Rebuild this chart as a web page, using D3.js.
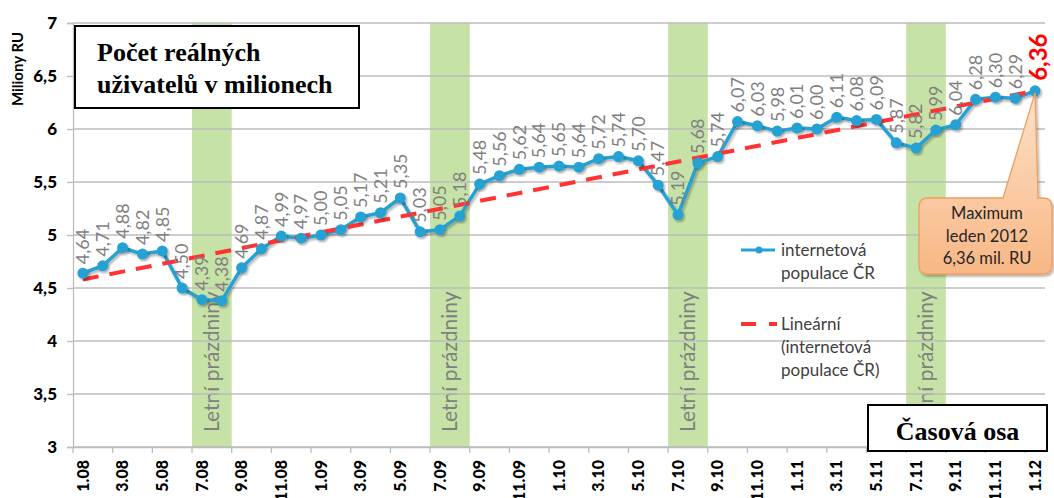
<!DOCTYPE html>
<html>
<head>
<meta charset="utf-8">
<script src="https://cdn.jsdelivr.net/npm/d3@7"></script>
<style>
body { margin: 0; background: #fff; }
svg { display: block; }
</style>
</head>
<body>
<div id="chart"></div>
<script>
const months = [
    "1.08", "2.08", "3.08", "4.08", "5.08", "6.08", "7.08", "8.08", "9.08", "10.08", "11.08", "12.08",
    "1.09", "2.09", "3.09", "4.09", "5.09", "6.09", "7.09", "8.09", "9.09", "10.09", "11.09", "12.09",
    "1.10", "2.10", "3.10", "4.10", "5.10", "6.10", "7.10", "8.10", "9.10", "10.10", "11.10", "12.10",
    "1.11", "2.11", "3.11", "4.11", "5.11", "6.11", "7.11", "8.11", "9.11", "10.11", "11.11", "12.11",
    "1.12"
];
const users = [
    4.64, 4.71, 4.88, 4.82, 4.85, 4.50, 4.39, 4.38, 4.69, 4.87, 4.99, 4.97,
    5.00, 5.05, 5.17, 5.21, 5.35, 5.03, 5.05, 5.18, 5.48, 5.56, 5.62, 5.64,
    5.65, 5.64, 5.72, 5.74, 5.70, 5.47, 5.19, 5.68, 5.74, 6.07, 6.03, 5.98,
    6.01, 6.00, 6.11, 6.08, 6.09, 5.87, 5.82, 5.99, 6.04, 6.28, 6.30, 6.29,
    6.36
];
const tickLabels = [
    "1.08", "3.08", "5.08", "7.08", "9.08", "11.08", "1.09", "3.09", "5.09", "7.09", "9.09", "11.09",
    "1.10", "3.10", "5.10", "7.10", "9.10", "11.10", "1.11", "3.11", "5.11", "7.11", "9.11", "11.11", "1.12"
];
const summers = [["7.08", "8.08"], ["7.09", "8.09"], ["7.10", "8.10"], ["7.11", "8.11"]];
const trendValues = [4.58, 6.36]; // at first and last month
const yTicks = [3, 3.5, 4, 4.5, 5, 5.5, 6, 6.5, 7];
const titleLines = ["Počet reálných", "uživatelů v milionech"];
const calloutLines = ["Maximum", "leden 2012", "6,36 mil. RU"];

const width = 1054, height = 498;
const margin = { top: 23, right: 9, bottom: 51, left: 73 };
const comma = d => String(d).replace(".", ",");
const fmt2 = d => d.toFixed(2).replace(".", ",");

const svg = d3.select("#chart").append("svg")
    .attr("width", width)
    .attr("height", height);

const defs = svg.append("defs");
const shadow = defs.append("filter").attr("id", "shadow")
    .attr("x", "-20%").attr("y", "-20%").attr("width", "140%").attr("height", "140%");
shadow.append("feDropShadow")
    .attr("dx", 1.5).attr("dy", 2).attr("stdDeviation", 1.2)
    .attr("flood-color", "#000").attr("flood-opacity", 0.3);
const grad = defs.append("linearGradient").attr("id", "peach")
    .attr("x1", 0).attr("y1", 0).attr("x2", 0).attr("y2", 1);
grad.append("stop").attr("offset", "0%").attr("stop-color", "#fde1c9");
grad.append("stop").attr("offset", "100%").attr("stop-color", "#f8b785");

const x = d3.scaleBand()
    .domain(months)
    .range([margin.left, width - margin.right])
    .padding(0);

const y = d3.scaleLinear()
    .domain([3, 7])
    .range([height - margin.bottom, margin.top]);

const cx = d => x(d) + x.bandwidth() / 2;

// summer holiday bands
summers.forEach(s => {
    const x0 = x(s[0]), x1 = x(s[1]) + x.bandwidth();
    svg.append("rect")
        .attr("x", x0)
        .attr("y", margin.top)
        .attr("width", x1 - x0)
        .attr("height", y(3) - margin.top)
        .attr("fill", "#c6e2a6");
    svg.append("text")
        .attr("transform", `translate(${(x0 + x1) / 2}, ${y(3) - 15}) rotate(-90)`)
        .attr("dy", "0.35em")
        .attr("font-family", "Lato, sans-serif")
        .attr("font-size", 21)
        .attr("fill", "#7f7f7f")
        .text("Letní prázdniny");
});

// gridlines
svg.append("g")
    .selectAll("line")
    .data(yTicks)
    .enter()
    .append("line")
    .attr("x1", margin.left)
    .attr("x2", width - margin.right)
    .attr("y1", d => y(d))
    .attr("y2", d => y(d))
    .attr("stroke", "#bdbdbd")
    .attr("stroke-width", 1.3);

// y axis
const yAxis = svg.append("g")
    .attr("transform", `translate(${margin.left}, 0)`)
    .call(d3.axisLeft(y).tickValues(yTicks).tickSize(6).tickPadding(10).tickFormat(comma));
yAxis.selectAll("path, line").attr("stroke", "#bdbdbd").attr("stroke-width", 1.3);
yAxis.selectAll("text")
    .attr("font-family", "Lato, sans-serif")
    .attr("font-weight", "900")
    .attr("font-size", 17)
    .attr("fill", "#000");

svg.append("text")
    .attr("transform", "translate(18, 69) rotate(-90)")
    .attr("text-anchor", "middle")
    .attr("dy", "0.35em")
    .attr("font-family", "Lato, sans-serif")
    .attr("font-weight", "bold")
    .attr("font-size", 15)
    .text("Miliony RU");

// x axis
const xAxis = svg.append("g")
    .attr("transform", `translate(0, ${y(3)})`)
    .call(d3.axisBottom(x).tickValues(tickLabels).tickSize(0));
xAxis.select(".domain").attr("stroke", "#bdbdbd").attr("stroke-width", 1.3);
xAxis.selectAll("text")
    .attr("transform", "rotate(-90)")
    .attr("text-anchor", "end")
    .attr("x", -13)
    .attr("y", 0)
    .attr("dy", "0.35em")
    .attr("font-family", "Lato, sans-serif")
    .attr("font-weight", "900")
    .attr("font-size", 16)
    .attr("fill", "#000");

svg.append("g")
    .selectAll("line")
    .data(tickLabels)
    .enter()
    .append("line")
    .attr("x1", d => x(d))
    .attr("x2", d => x(d))
    .attr("y1", y(3))
    .attr("y2", y(3) + 6)
    .attr("stroke", "#bdbdbd")
    .attr("stroke-width", 1.3);

// series line
const line = d3.line()
    .x((d, i) => cx(months[i]))
    .y(d => y(d));

svg.append("path")
    .datum(users)
    .attr("d", line)
    .attr("fill", "none")
    .attr("stroke", "#27a1d3")
    .attr("stroke-width", 3.5)
    .attr("stroke-linejoin", "round")
    .attr("filter", "url(#shadow)");

// linear trend
svg.append("line")
    .attr("x1", cx(months[0]))
    .attr("y1", y(trendValues[0]))
    .attr("x2", cx(months[months.length - 1]))
    .attr("y2", y(trendValues[1]))
    .attr("stroke", "#ff3333")
    .attr("stroke-width", 4)
    .attr("stroke-dasharray", "16,11");

svg.append("g")
    .selectAll("circle")
    .data(users)
    .enter()
    .append("circle")
    .attr("cx", (d, i) => cx(months[i]))
    .attr("cy", d => y(d))
    .attr("r", 5.5)
    .attr("fill", "#27a1d3")
    .attr("filter", "url(#shadow)");

// data labels
svg.append("g")
    .selectAll("text")
    .data(users.slice(0, -1))
    .enter()
    .append("text")
    .attr("transform", (d, i) => `translate(${cx(months[i])}, ${y(d) - 9}) rotate(-90)`)
    .attr("dy", "0.35em")
    .attr("font-family", "Lato, sans-serif")
    .attr("font-size", 18)
    .attr("fill", "#7f7f7f")
    .text(fmt2);

const last = users.length - 1;
svg.append("text")
    .attr("transform", `translate(${cx(months[last]) + 4}, ${y(users[last]) - 10}) rotate(-90)`)
    .attr("dy", "0.35em")
    .attr("font-family", "Lato, sans-serif")
    .attr("font-weight", "bold")
    .attr("font-size", 24)
    .attr("fill", "#ff0000")
    .text(fmt2(users[last]));

// title box
svg.append("rect")
    .attr("x", 75).attr("y", 26)
    .attr("width", 284).attr("height", 82)
    .attr("fill", "#fff")
    .attr("stroke", "#000")
    .attr("stroke-width", 2);
svg.append("g")
    .selectAll("text")
    .data(titleLines)
    .enter()
    .append("text")
    .attr("x", 97)
    .attr("y", (d, i) => 61 + i * 32)
    .attr("font-family", "'Liberation Serif', serif")
    .attr("font-weight", "bold")
    .attr("font-size", 26)
    .text(d => d);

// time axis box
svg.append("rect")
    .attr("x", 868).attr("y", 405)
    .attr("width", 179).attr("height", 46)
    .attr("fill", "#fff")
    .attr("stroke", "#000")
    .attr("stroke-width", 2);
svg.append("text")
    .attr("x", 957.5).attr("y", 440)
    .attr("text-anchor", "middle")
    .attr("font-family", "'Liberation Serif', serif")
    .attr("font-weight", "bold")
    .attr("font-size", 26)
    .text("Časová osa");

// legend
const legend = svg.append("g").attr("font-family", "Lato, sans-serif").attr("font-size", 17).attr("fill", "#404040");
legend.append("line")
    .attr("x1", 741).attr("x2", 775).attr("y1", 250).attr("y2", 250)
    .attr("stroke", "#27a1d3").attr("stroke-width", 3);
legend.append("circle").attr("cx", 759).attr("cy", 250).attr("r", 3.5).attr("fill", "#27a1d3");
legend.append("text").attr("x", 781).attr("y", 256).text("internetová");
legend.append("text").attr("x", 781).attr("y", 279).text("populace ČR");
legend.append("line")
    .attr("x1", 741).attr("x2", 777).attr("y1", 324).attr("y2", 324)
    .attr("stroke", "#ff3333").attr("stroke-width", 4).attr("stroke-dasharray", "15,13");
legend.append("text").attr("x", 781).attr("y", 330).text("Lineární");
legend.append("text").attr("x", 781).attr("y", 353).text("(internetová");
legend.append("text").attr("x", 781).attr("y", 376).text("populace ČR)");

// callout for maximum
const tipX = cx(months[last]), tipY = y(users[last]) + 2;
const bx0 = 919, bx1 = 1052, by0 = 198, by1 = 274, r = 9;
const callout = d3.path();
callout.moveTo(bx0 + r, by0);
callout.lineTo(1003, by0);
callout.lineTo(tipX, tipY);
callout.lineTo(1038, by0);
callout.lineTo(bx1 - r, by0);
callout.quadraticCurveTo(bx1, by0, bx1, by0 + r);
callout.lineTo(bx1, by1 - r);
callout.quadraticCurveTo(bx1, by1, bx1 - r, by1);
callout.lineTo(bx0 + r, by1);
callout.quadraticCurveTo(bx0, by1, bx0, by1 - r);
callout.lineTo(bx0, by0 + r);
callout.quadraticCurveTo(bx0, by0, bx0 + r, by0);
callout.closePath();
svg.append("path")
    .attr("d", callout.toString())
    .attr("fill", "url(#peach)")
    .attr("stroke", "#ee9f5f")
    .attr("stroke-width", 1.3)
    .attr("filter", "url(#shadow)");
svg.append("g")
    .selectAll("text")
    .data(calloutLines)
    .enter()
    .append("text")
    .attr("x", 987)
    .attr("y", (d, i) => 219 + i * 22.5)
    .attr("text-anchor", "middle")
    .attr("font-family", "Lato, sans-serif")
    .attr("font-size", 16.5)
    .attr("fill", "#262626")
    .text(d => d);
</script>
</body>
</html>
